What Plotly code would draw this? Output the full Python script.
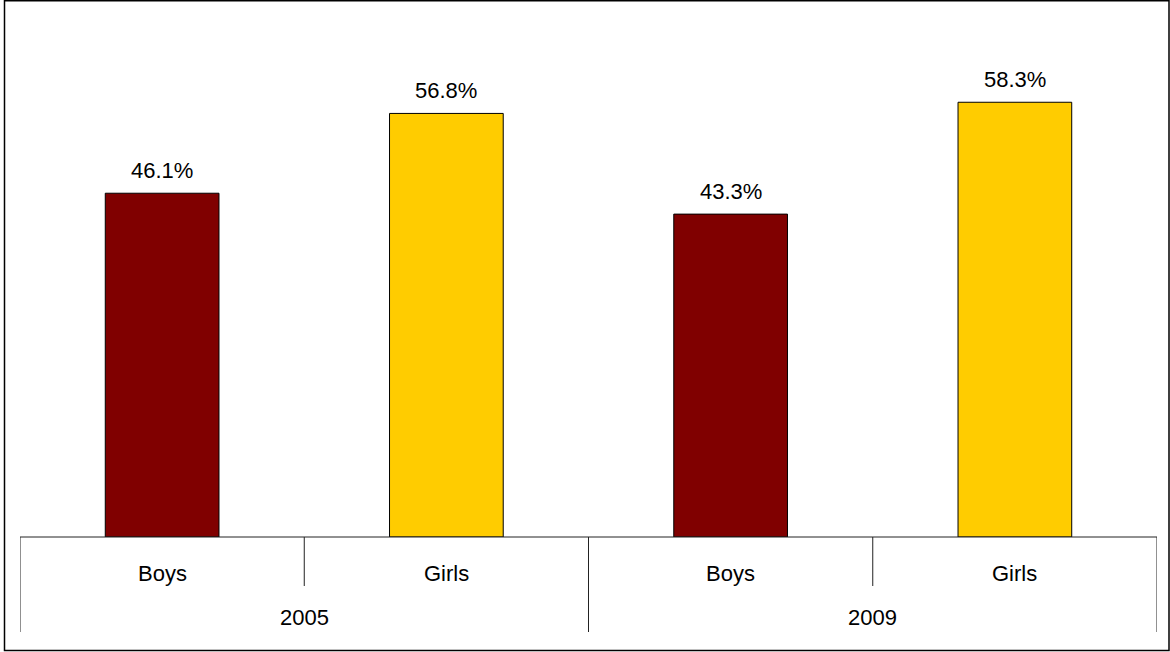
import plotly.graph_objects as go

# Share of pupils by year and gender (%)
years = ["2005", "2009"]
genders = ["Boys", "Girls"]
values = [46.1, 56.8, 43.3, 58.3]
bar_colors = ["#800000", "#FFCC00", "#800000", "#FFCC00"]
value_labels = ["46.1%", "56.8%", "43.3%", "58.3%"]

categories = [f"{y} {g}" for y in years for g in genders]

W, H = 1170, 652
ML, MR, MT, MB = 20, 13, 15, 115
PW, PH = W - ML - MR, H - MT - MB

FONT = "Liberation Sans, Arial, sans-serif"
FONT_SIZE = 22

fig = go.Figure(
    go.Bar(
        x=categories,
        y=values,
        width=0.4,
        marker=dict(color=bar_colors, line=dict(color="black", width=1)),
        hoverinfo="skip",
    )
)


def px_to_paper_x(px):
    return (px - ML) / PW


def px_to_paper_y(py):
    return (H - MB - py) / PH


shapes = []
annotations = []

# value labels above bars
for cat, v, lab in zip(categories, values, value_labels):
    annotations.append(dict(
        x=cat, y=v, xref="x", yref="y", text=lab, showarrow=False,
        yanchor="bottom", yshift=8, font=dict(family=FONT, size=FONT_SIZE, color="black"),
    ))

# category axis: baseline, dividers and labels
y_base = px_to_paper_y(537)
y_inner = px_to_paper_y(586)
y_outer = px_to_paper_y(632)
line_style = dict(color="#222222", width=1)

shapes.append(dict(type="line", xref="x", yref="paper", x0=-0.5, x1=len(categories) - 0.5,
                   y0=y_base, y1=y_base, line=line_style))
for i in range(len(categories) + 1):
    xpos = i - 0.5
    y_end = y_outer if i % len(genders) == 0 else y_inner
    shapes.append(dict(type="line", xref="x", yref="paper", x0=xpos, x1=xpos,
                       y0=y_base, y1=y_end, line=line_style))

for i, cat in enumerate(categories):
    annotations.append(dict(
        x=i, y=px_to_paper_y(573), xref="x", yref="paper", text=genders[i % len(genders)],
        showarrow=False, yanchor="middle", font=dict(family=FONT, size=FONT_SIZE, color="black"),
    ))
for j, yr in enumerate(years):
    annotations.append(dict(
        x=j * len(genders) + (len(genders) - 1) / 2, y=px_to_paper_y(617), xref="x", yref="paper",
        text=yr, showarrow=False, yanchor="middle", font=dict(family=FONT, size=FONT_SIZE, color="black"),
    ))

# outer frame
shapes.append(dict(type="rect", xref="paper", yref="paper",
                   x0=px_to_paper_x(4.5), x1=px_to_paper_x(1169),
                   y0=px_to_paper_y(650.5), y1=px_to_paper_y(0.8),
                   line=dict(color="black", width=1.5), fillcolor="rgba(0,0,0,0)", layer="below"))

fig.update_layout(
    width=W, height=H,
    margin=dict(l=ML, r=MR, t=MT, b=MB, pad=0),
    paper_bgcolor="white", plot_bgcolor="white",
    showlegend=False,
    xaxis=dict(type="category", range=[-0.5, len(categories) - 0.5], showticklabels=False,
               showgrid=False, zeroline=False, showline=False, ticks=""),
    yaxis=dict(range=[0, 70], visible=False, showgrid=False, zeroline=False),
    shapes=shapes,
    annotations=annotations,
    font=dict(family=FONT),
)

fig.write_html("out.html")
